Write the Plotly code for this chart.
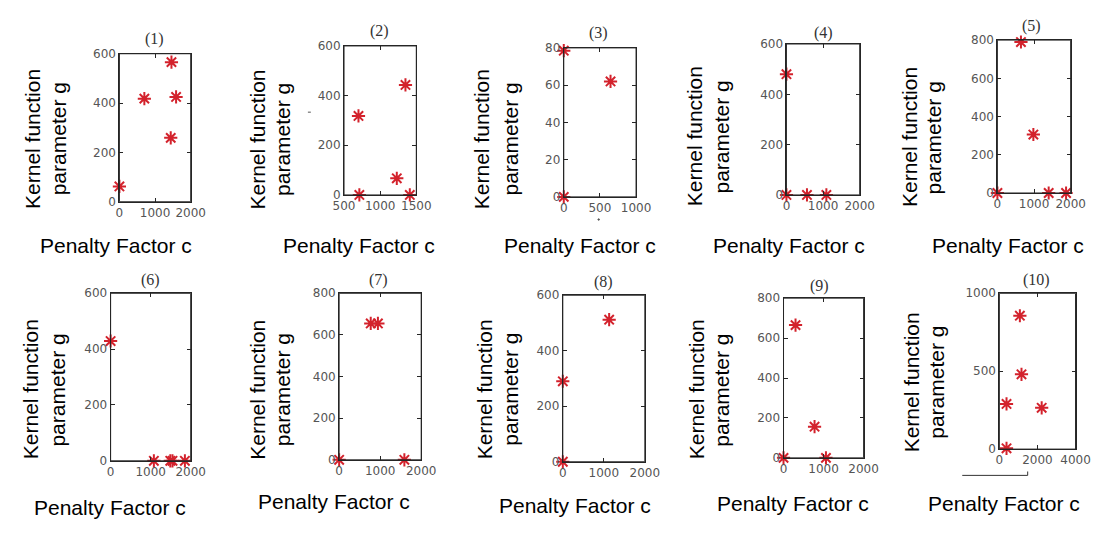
import plotly.graph_objects as go

W, H = 1113, 534

# ---- data: penalty factor c and kernel parameter g per panel ----
c1 = [0, 700, 1460, 1590, 1440]
g1 = [62, 418, 566, 425, 259]
c2 = [700, 712, 1230, 1350, 1410]
g2 = [318, 0, 67, 443, 0]
c3 = [0, 0, 647]
g3 = [78.5, 0, 62]
c4 = [0, 0, 560, 1090]
g4 = [480, 0, 0, 0]
c5 = [0, 643, 982, 1400, 1875]
g5 = [0, 790, 306, 0, 0]
c6 = [0, 1080, 1490, 1545, 1855]
g6 = [429, 0, 0, 0, 0]
c7 = [0, 770, 945, 1590]
g7 = [0, 655, 655, 0]
c8 = [0, 0, 1130]
g8 = [0, 290, 512]
c9 = [0, 300, 775, 1060]
g9 = [0, 665, 156, 0]
c10 = [376, 376, 1077, 1162, 2222]
g10 = [5, 290, 856, 480, 265]

panel_titles = ["(1)", "(2)", "(3)", "(4)", "(5)", "(6)", "(7)", "(8)", "(9)", "(10)"]
x_ticks = [[0, 1000, 2000], [500, 1000, 1500], [0, 500, 1000], [0, 1000, 2000], [0, 1000, 2000],
           [0, 1000, 2000], [0, 1000, 2000], [0, 1000, 2000], [0, 1000, 2000], [0, 2000, 4000]]
y_ticks = [[0, 200, 400, 600], [0, 200, 400, 600], [0, 20, 40, 60, 80], [0, 200, 400, 600],
           [0, 200, 400, 600, 800], [0, 200, 400, 600], [0, 200, 400, 600, 800], [0, 200, 400, 600],
           [0, 200, 400, 600, 800], [0, 500, 1000]]
x_label = "Penalty Factor c"
y_label_1 = "Kernel function"
y_label_2 = "parameter g"

C = [c1, c2, c3, c4, c5, c6, c7, c8, c9, c10]
G = [g1, g2, g3, g4, g5, g6, g7, g8, g9, g10]

# ---- layout geometry (pixels) ----
boxes = [(111, 184, 48, 200), (341, 415, 40, 193), (566, 640, 42, 195), (794, 869, 38, 193),
         (1010, 1085, 34, 191), (102, 184, 294, 466), (336, 420, 294, 465), (565, 649, 296, 467),
         (791, 873, 299, 463), (1012, 1090, 294, 454)]
title_pos = [(147, 33), (377, 25), (602, 27), (832, 27), (1045, 20),
             (143, 280), (376, 280), (607, 282), (828, 287), (1050, 280)]
xlab_pos = [(107, 245), (356, 245), (583, 245), (797, 245), (1021, 245),
            (101, 514), (331, 508), (577, 512), (801, 510), (1017, 510)]
ylab_pos = [(22, 49, 135), (252, 278, 136), (482, 511, 136), (700, 728, 133), (920, 945, 134),
            (20, 48, 393), (253, 278, 393), (485, 512, 393), (702, 728, 393), (922, 948, 385)]

def px(x):
    return x / W

def py(y):
    return 1 - y / H

fig = go.Figure()
layout = dict(width=W, height=H, margin=dict(l=0, r=0, t=0, b=0, pad=0),
              paper_bgcolor="white", plot_bgcolor="white", showlegend=False)
annotations = []
shapes = []

AX = "#262626"

for i in range(10):
    n = "" if i == 0 else str(i + 1)
    x0, x1, y0, y1 = boxes[i]
    xt, yt = x_ticks[i], y_ticks[i]
    fig.add_trace(go.Scatter(x=C[i], y=G[i], mode="markers", xaxis="x" + n, yaxis="y" + n,
                             cliponaxis=False,
                             marker=dict(symbol="asterisk-open", size=11, color="#d3222c",
                                         line=dict(width=2, color="#d3222c"))))
    layout["xaxis" + n] = dict(domain=[px(x0), px(x1)], range=[xt[0], xt[-1]],
                               tickmode="array", tickvals=xt, anchor="y" + n)
    layout["yaxis" + n] = dict(domain=[py(y1), py(y0)], range=[yt[0], yt[-1]],
                               tickmode="array", tickvals=yt, anchor="x" + n)
    # darker axes box drawn over the axis lines
    shapes.append(dict(type="rect", xref="x" + n + " domain", yref="y" + n + " domain",
                       x0=0, x1=1, y0=0, y1=1, line=dict(color=AX, width=1), layer="above"))
    tx, ty = title_pos[i]
    annotations.append(dict(text=panel_titles[i], x=px(tx), y=py(ty), xref="paper", yref="paper",
                            showarrow=False, xanchor="center", yanchor="middle",
                            font=dict(family="Liberation Serif", size=16, color="#333333")))
    lx, ly = xlab_pos[i]
    annotations.append(dict(text=x_label, x=px(lx), y=py(ly), xref="paper", yref="paper",
                            showarrow=False, xanchor="center", yanchor="middle",
                            font=dict(family="Liberation Sans", size=21, color="black")))
    a1, a2, yc = ylab_pos[i]
    for xx, txt in ((a1, y_label_1), (a2, y_label_2)):
        annotations.append(dict(text=txt, x=px(xx), y=py(yc), xref="paper", yref="paper",
                                showarrow=False, xanchor="center", yanchor="middle", textangle=-90,
                                font=dict(family="Liberation Sans", size=21, color="black")))

# small stray marks visible in the original figure
shapes.append(dict(type="line", xref="paper", yref="paper", x0=px(974), x1=px(1041), y0=py(481), y1=py(481),
                   line=dict(color="#333333", width=1)))
shapes.append(dict(type="line", xref="paper", yref="paper", x0=px(1041), x1=px(1041), y0=py(481), y1=py(477),
                   line=dict(color="#333333", width=1)))
shapes.append(dict(type="line", xref="paper", yref="paper", x0=px(304), x1=px(307), y0=py(108), y1=py(108),
                   line=dict(color="#555555", width=1)))
shapes.append(dict(type="circle", xref="paper", yref="paper", x0=px(601), x1=px(602.5), y0=py(219), y1=py(217.5),
                   line=dict(color="#555555", width=1), fillcolor="#555555"))

layout["annotations"] = annotations
layout["shapes"] = shapes
fig.update_layout(**layout)
fig.update_xaxes(showgrid=False, zeroline=False, showline=True, mirror="ticks",
                 linecolor=AX, linewidth=1, ticks="inside", ticklen=4, tickcolor=AX, tickwidth=1,
                 tickfont=dict(family="DejaVu Sans", size=12, color="#555555"))
fig.update_yaxes(showgrid=False, zeroline=False, showline=True, mirror="ticks",
                 linecolor=AX, linewidth=1, ticks="inside", ticklen=4, tickcolor=AX, tickwidth=1,
                 tickfont=dict(family="DejaVu Sans", size=12, color="#555555"))
fig.write_html("out.html", config={"displayModeBar": False},
               post_script="document.body.style.margin='0';document.body.style.overflow='hidden';")
